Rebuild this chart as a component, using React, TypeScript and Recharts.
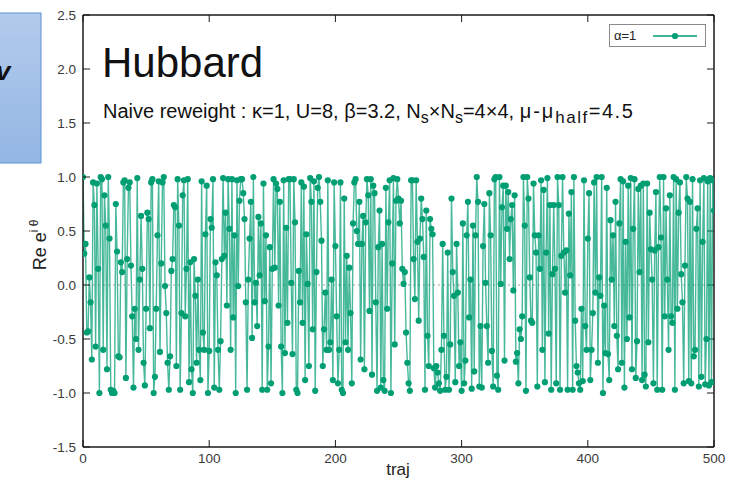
import React from 'react';
import { LineChart, Line, XAxis, YAxis, ReferenceLine } from 'recharts';

// Re e^{i theta} per trajectory in 8 stretches
const seg1 = [1.0, 0.29, 0.38, -0.44, -0.43, 0.07, -0.16, -0.69, 0.95, 0.74,
  -0.57, 0.94, 0.15, -1.0, 1.0, 0.98, -0.6, 0.83, 0.55, -0.78,
  1.0, 0.43, -0.97, -1.0, -0.98, -1.0, 0.75, 0.31, -0.66, -0.67,
  0.21, 0.12, 0.95, 0.97, -0.86, 0.24, 0.9, 0.95, 0.18, -0.29,
  -0.95, -0.22, -0.5, 0.99, -0.6, 0.05, 0.64, 0.15, -0.72, -0.93,
  -0.22, 0.67, 0.61, -0.4, 0.95, 0.98, -1.0, -0.85, -0.22, 0.46,
  0.96, -0.62, 0.2];
const seg2 = [0.95, 1.0, -0.01, -0.26, -0.72, -0.97, -0.66, 0.13, 0.24, 0.74,
  0.72, -0.75, 0.98, 0.55, -0.97, -0.26, 0.83, 0.97, -0.29, 0.15,
  0.98, -0.9, 0.21, -0.78, -1.0, 0.24, -0.1, -0.72, 0.05, -0.6,
  -0.88, 0.96, -0.44, -0.6, 0.47, 0.92, -1.0, -0.61, 0.61, 0.53,
  0.98, -0.95, 0.21, 0.09, -0.6, -0.97, -0.52, 0.24, 0.99, 0.27,
  0.67, -0.19, 0.98, 0.52, -0.6, 0.98, -0.3, 0.46, -1.0, 0.97,
  -0.01, 0.78];
const seg3 = [0.98, 0.98, 0.85, 0.61, -0.16, -0.97, 0.05, 0.43, 0.77, -0.49,
  1.0, -0.16, 0.02, -0.38, 0.63, 0.09, 0.57, -0.97, 0.94, -0.15,
  0.46, -0.97, -0.57, 0.35, -0.91, 0.15, 0.98, 0.16, 0.94, 0.89,
  -0.19, 0.77, -0.57, -1.0, 0.97, -0.63, 0.53, -0.35, 0.98, 0.98,
  0.02, -0.64, 0.98, 0.58, -0.97, -1.0, 0.13, -0.16, 0.95, -0.35,
  0.91, -0.88, 0.47, 0.01, -0.75, 0.99, 0.77, -0.41, 0.96, -0.98,
  0.12, 0.9];
const seg4 = [1.0, 0.77, 0.41, -0.75, -0.41, -0.07, -0.6, 0.97, -0.6, -0.53,
  0.05, -0.88, 0.95, 0.36, -0.29, -0.91, -0.6, 0.95, -0.97, -1.0,
  0.8, -0.53, 0.27, -0.6, 0.16, -0.26, -0.91, 0.57, 0.95, 0.98,
  0.5, 0.38, 0.77, -0.69, 0.38, 0.64, -0.78, 0.58, 0.98, 0.83,
  -0.24, 0.98, -0.83, 0.92, 0.85, -0.16, -0.98, 0.35, 0.69, -0.95,
  0.38, -0.88, -0.98, 0.9, -0.22, 0.58, 0.97, -1.0, 0.2, 0.99,
  -0.55, 0.78];
const seg5 = [0.98, 0.8, 0.57, 0.78, 0.15, 0.01, 0.12, -0.44, -0.72, -0.91,
  -0.98, 0.97, 0.97, 0.24, -0.13, 0.97, 0.4, -0.33, 0.43, 0.8,
  0.61, 0.26, -0.97, 0.69, -0.47, -0.75, 0.61, 0.52, 0.47, -0.77,
  -0.95, -0.75, -0.81, -0.91, -0.98, -0.6, 0.38, -0.47, -0.97, -0.85,
  0.3, -0.97, -0.55, 0.8, 0.12, -0.1, -0.9, 0.38, -0.07, -0.75,
  -0.53, -0.98, 0.57, -0.91, -0.7, 0.46, 0.77, -0.3, 0.05, -0.96,
  0.55, -0.8];
const seg6 = [0.46, 1.0, 0.77, -0.94, -0.38, -0.95, 0.36, 0.75, 0.02, -0.38,
  -0.72, 0.85, 0.46, -0.61, -0.94, 0.98, 1.0, -0.84, -0.97, 1.0,
  0.01, 0.72, 0.92, -0.7, 0.92, 0.52, 0.86, 0.24, 0.61, 0.74,
  -0.05, 0.83, -0.71, -0.63, -0.91, -0.41, -0.5, -0.29, 1.0, 0.55,
  -0.98, 1.0, 0.8, 0.07, -0.33, -0.35, 0.94, 0.46, 0.3, -0.94,
  0.46, 0.15, 0.97, -0.6, 0.88, -0.9, 0.3, 0.99, -0.45, 0.74,
  -0.97, 0.1];
const seg7 = [0.74, 0.15, -0.91, 1.0, 0.74, -0.97, 0.27, 1.0, 0.3, -0.07,
  0.32, -0.97, 0.66, 0.09, 0.86, -0.97, 1.0, -0.33, -0.75, -0.81,
  -0.91, -0.97, -0.22, -0.89, 0.97, -0.38, -0.6, 0.43, 0.85, -0.88,
  -0.6, -0.26, 0.95, -0.07, 1.0, -0.72, 0.07, -0.1, 1.0, -1.0,
  -0.19, -0.63, 0.9, -0.64, -0.88, 0.6, 0.05, 0.46, -0.38, 0.77,
  -0.47, -0.78, 0.57, 0.98, -0.72, 0.96, -0.95, 0.4, -0.5, 0.92,
  -0.3, 0.99];
const seg8 = [-0.78, 0.52, 0.98, -0.86, -0.52, 0.89, 0.12, 0.92, -0.88, 0.94,
  -0.83, -0.94, 0.94, -0.53, 0.67, 0.33, 0.05, -0.91, 0.32, 0.86,
  -0.97, 0.35, 1.0, 0.44, -0.97, 1.0, -0.29, 0.71, 0.05, -0.6,
  0.83, -0.29, -0.35, 1.0, -0.97, 0.98, -0.22, 0.67, 0.95, 0.1,
  -0.16, -0.91, 0.18, 1.0, 0.8, -0.89, 0.77, -0.91, 0.98, -0.66,
  -0.6, 0.52, 0.71, -0.94, 0.97, -0.85, 0.4, 0.99, -0.92, -0.5,
  0.96, -0.93, 0.99, -0.9, 0.97, 0.69];

const xTicks = [0, 100, 200, 300, 400, 500];
const yTicks = [-1.5, -1, -0.5, 0, 0.5, 1, 1.5, 2, 2.5];
const seriesName = 'α=1';
const titleText = 'Hubbard';
const xLabel = 'traj';

const reValues = [...seg1, ...seg2, ...seg3, ...seg4, ...seg5, ...seg6, ...seg7, ...seg8];
const data = reValues.map((v, i) => ({ traj: i, re: v }));

const X_MIN = 0, X_MAX = 500, Y_MIN = -1.5, Y_MAX = 2.5;
// mirror tick length in data units (about 7 px each way)
const TICK_DX = 5.5, TICK_DY = 0.065;

const FONT = '"Liberation Sans", Arial, Helvetica, sans-serif';
const TICK = 7;
const AXIS = '#1a1a1a';
const GREEN = '#009e73';
const LABEL = '#3a3a3a';

const LeftTick = (p: any) => (
  <g>
    <line x1={p.x} x2={p.x + TICK} y1={p.y} y2={p.y} stroke={AXIS} strokeWidth={1} />
    <text x={p.x - 7} y={p.y} textAnchor="end" dominantBaseline="central" fontSize={13.5} fill={LABEL} fontFamily={FONT}>
      {Number(p.payload.value).toFixed(1)}
    </text>
  </g>
);
const BottomTick = (p: any) => (
  <g>
    <line x1={p.x} x2={p.x} y1={p.y} y2={p.y - TICK} stroke={AXIS} strokeWidth={1} />
    <text x={p.x} y={p.y + 11} textAnchor="middle" dominantBaseline="central" fontSize={13.5} fill={LABEL} fontFamily={FONT}>
      {String(p.payload.value)}
    </text>
  </g>
);

export default function App() {
  return (
    <div style={{ position: 'absolute', left: 0, top: 0, width: 741, height: 482, background: '#fff', overflow: 'hidden' }}>
      <LineChart width={741} height={482} data={data} margin={{ top: 15, right: 27, bottom: 0, left: 0 }}>
        <XAxis xAxisId="b" dataKey="traj" type="number" domain={[X_MIN, X_MAX]} ticks={xTicks} interval={0}
          height={35} tickSize={0} tickMargin={0} tickLine={false}
          axisLine={{ stroke: AXIS, strokeWidth: 1.5 }} tick={BottomTick} allowDataOverflow />
        <YAxis yAxisId="l" type="number" domain={[Y_MIN, Y_MAX]} ticks={yTicks} interval={0}
          width={83} tickSize={0} tickMargin={0} tickLine={false}
          axisLine={{ stroke: AXIS, strokeWidth: 1.5 }} tick={LeftTick} allowDataOverflow />
        <ReferenceLine xAxisId="b" yAxisId="l" y={0} stroke="#a0a0a0" strokeDasharray="2 3" strokeWidth={1} />
        <ReferenceLine xAxisId="b" yAxisId="l" y={Y_MAX} stroke={AXIS} strokeWidth={1.5} />
        <ReferenceLine xAxisId="b" yAxisId="l" x={X_MAX} stroke={AXIS} strokeWidth={1.5} />
        {xTicks.map((t) => (
          <ReferenceLine key={'tx' + t} xAxisId="b" yAxisId="l" stroke={AXIS} strokeWidth={1}
            segment={[{ x: t, y: Y_MAX }, { x: t, y: Y_MAX - TICK_DY }]} />
        ))}
        {yTicks.map((t) => (
          <ReferenceLine key={'ry' + t} xAxisId="b" yAxisId="l" stroke={AXIS} strokeWidth={1}
            segment={[{ x: X_MAX, y: t }, { x: X_MAX - TICK_DX, y: t }]} />
        ))}
        <Line xAxisId="b" yAxisId="l" dataKey="re" name={seriesName} type="linear"
          stroke={GREEN} strokeWidth={1.4} strokeOpacity={0.72}
          dot={{ r: 3.1, fill: GREEN, stroke: 'none', fillOpacity: 1 }}
          activeDot={false} isAnimationActive={false} />
      </LineChart>

      <svg width={741} height={482} style={{ position: 'absolute', left: 0, top: 0, pointerEvents: 'none' }}>
        <defs>
          <linearGradient id="bluebox" x1="0" y1="0" x2="0" y2="1">
            <stop offset="0" stopColor="#b3cbec" />
            <stop offset="1" stopColor="#93b6e3" />
          </linearGradient>
        </defs>
        <rect x={-1} y={13} width={42} height={150} fill="url(#bluebox)" stroke="#5e92d6" strokeWidth={1} />
        <text x={-4} y={80} fontSize={26} fontWeight="bold" fontStyle="italic" fill="#111" fontFamily={FONT}>v</text>

        <text x={102} y={77} fontSize={42} fill="#111" fontFamily={FONT}>{titleText}</text>
        <text x={103} y={118} fontSize={20} fill="#111" fontFamily={FONT}>
          <tspan>Naive reweight : κ=1, U=8, β=3.2, N</tspan>
          <tspan fontSize={16} dy={5}>s</tspan>
          <tspan dy={-5}>×N</tspan>
          <tspan fontSize={16} dy={5}>s</tspan>
          <tspan dy={-5}>=4×4, </tspan>
          <tspan letterSpacing={2}>μ-μ</tspan>
          <tspan fontSize={17} dy={5} letterSpacing={1.5}>half</tspan>
          <tspan dy={-5} letterSpacing={1.5}>=4.5</tspan>
        </text>

        <text transform="rotate(-90)" x={-245} y={46} textAnchor="middle" fontSize={18} fill="#222" fontFamily={FONT}>
          Re e<tspan fontSize={12} dy={-8}>i θ</tspan>
        </text>
        <text x={398} y={475} textAnchor="middle" fontSize={17} fill="#222" fontFamily={FONT}>{xLabel}</text>

        <rect x={609.5} y={24.5} width={96} height={22} fill="#fff" stroke="#8a8a8a" strokeWidth={1} />
        <text x={614} y={40} fontSize={13} fill="#222" fontFamily={FONT}>{seriesName}</text>
        <line x1={653} x2={697} y1={36} y2={36} stroke={GREEN} strokeWidth={1.4} />
        <circle cx={675} cy={36} r={3.1} fill={GREEN} />
      </svg>
    </div>
  );
}
